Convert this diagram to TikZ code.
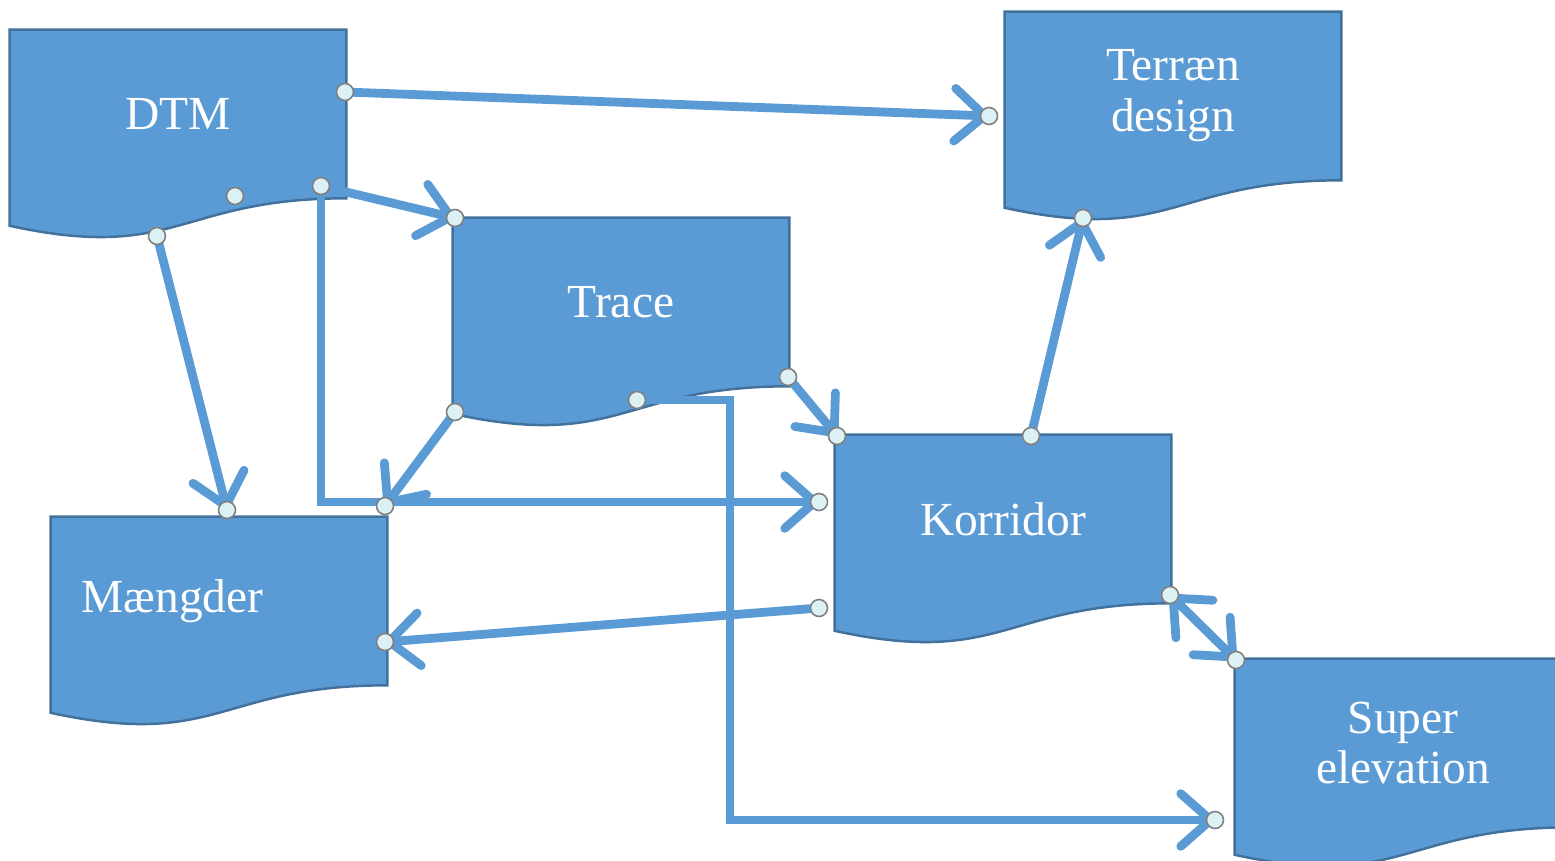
\documentclass[tikz,border=0pt]{standalone}
\usepackage{fontspec}
\setmainfont{Liberation Serif}
\usetikzlibrary{arrows.meta,backgrounds}
\definecolor{boxblue}{HTML}{5B9BD5}
\definecolor{boxedge}{HTML}{41719C}
\definecolor{handlefill}{HTML}{DCF1F4}
\tikzstyle{conn} = [line width=5pt,draw=boxblue,-{Straight Barb[round,length=17pt,width=30pt]}]
\tikzstyle{twoway} = [line width=5pt,draw=boxblue,{Straight Barb[round,length=17pt,width=30pt]}-{Straight Barb[round,length=17pt,width=30pt]}]
\newcommand{\docshape}[1]{%
  \begin{pgfonlayer}{background}
  \filldraw[fill=boxblue,draw=boxedge,line width=1.4pt] (#1.north west) -- (#1.north east) -- (#1.south east)
    .. controls (#1.south) and ([yshift=-1.28cm]#1.south) .. ([yshift=-0.55cm]#1.south west) -- cycle;
  \end{pgfonlayer}}

\begin{document}
\begin{tikzpicture}[x=0.02cm,y=-0.02cm]
\tikzset{docbox/.style={minimum width=6.72cm,minimum height=3.36cm,inner sep=0pt,
    text=white,align=center,font=\fontsize{27}{29}\selectfont},
  handle/.style={fill=handlefill,draw=gray,line width=0.9pt}}
\useasboundingbox (0,0) rectangle (1555,861);

\node[docbox] (dtm) at (178,114) {DTM};
\node[docbox] (terraen) at (1173,96) {Terræn\\design};
\node[docbox] (trace) at (621,302) {Trace};
\node[docbox] (korridor) at (1003,519) {Korridor};
\node[docbox,text width=5.5cm,align=left] (maengder) at (219,601) {Mængder};
\node[docbox] (super) at (1403,743) {Super\\elevation};
\docshape{dtm}
\docshape{terraen}
\docshape{trace}
\docshape{korridor}
\docshape{maengder}
\docshape{super}

\coordinate (d1) at (345,92);
\coordinate (d2) at (321,186);
\coordinate (d3) at (157,236);
\coordinate (d4) at (235,196);
\coordinate (t1) at (989,116);
\coordinate (t2) at (1083,218);
\coordinate (tr1) at (455,218);
\coordinate (tr2) at (455,412);
\coordinate (tr3) at (637,400);
\coordinate (tr4) at (788,377);
\coordinate (k1) at (819,502);
\coordinate (k2) at (837,436);
\coordinate (k3) at (1031,436);
\coordinate (k4) at (819,608);
\coordinate (k5) at (1170,595);
\coordinate (m1) at (227,510);
\coordinate (m2) at (385,506);
\coordinate (m3) at (385,642);
\coordinate (s1) at (1215,820);
\coordinate (s2) at (1236,660);

\draw [conn] (d1) -- (t1);
\draw [conn] (d2) |- (k1);
\draw [conn] (d2) -- (tr1);
\draw [conn] (d3) -- (m1);
\draw [conn] (tr2) -- (m2);
\draw [conn] (tr3) -- ++(93,0) |- (s1);
\draw [conn] (tr4) -- (k2);
\draw [conn] (k3) -- (t2);
\draw [conn] (k4) -- (m3);
\draw [twoway] (k5) -- (s2);

\foreach \p in {d1,d2,d3,d4,t1,t2,tr1,tr2,tr3,tr4,k1,k2,k3,k4,k5,m1,m2,m3,s1,s2}
  \filldraw[handle] (\p) circle[radius=0.17cm];
\end{tikzpicture}
\end{document}
